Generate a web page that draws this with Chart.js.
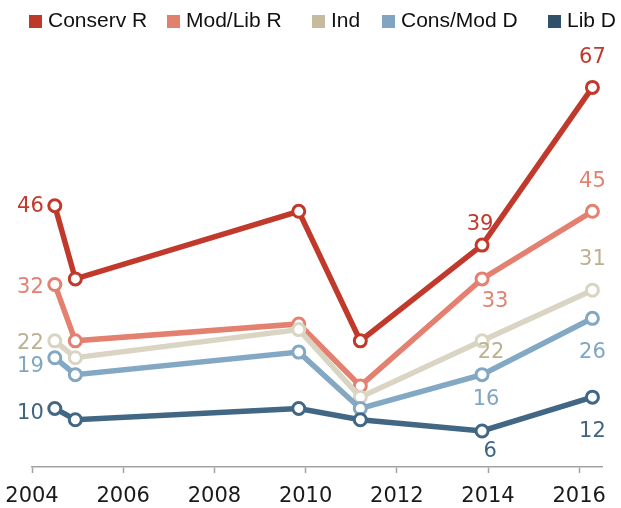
<!DOCTYPE html>
<html>
<head>
<meta charset="utf-8">
<script src="https://cdn.jsdelivr.net/npm/chart.js@4"></script>
<style>
  html, body { margin: 0; padding: 0; background: #fff; }
  canvas { display: block; }
</style>
</head>
<body>
<canvas id="partyChart" width="621" height="508"></canvas>
<script>
// survey dates (fractional years) and share per group
const years = [2004.5, 2004.95, 2009.85, 2011.2, 2013.87, 2016.29];
const seriesNames = ['Conserv R', 'Mod/Lib R', 'Ind', 'Cons/Mod D', 'Lib D'];
const conservR = [46, 33, 45, 22, 39, 67];
const modLibR = [32, 22, 25, 14, 33, 45];
const ind = [22, 19, 24, 12, 22, 31];
const consModD = [19, 16, 20, 10, 16, 26];
const libD = [10, 8, 10, 8, 6, 12];
const tickYears = [2004, 2006, 2008, 2010, 2012, 2014, 2016];

const allSeries = [conservR, modLibR, ind, consModD, libD];

const lineColors = ['#c0392b', '#e4806f', '#dad5c3', '#82a8c4', '#416785'];
const legendColors = ['#bf3927', '#e2806e', '#c4bc9d', '#81a5c0', '#31506a'];
const labelColors = ['#c0392b', '#e4806f', '#bbb18f', '#7fa6c2', '#3f6580'];

// where the value labels sit relative to each point: [dx, dy, align]
const labelSpots = [
    [[-11, 1, 'right'], null, null, null, [-2, -21, 'center'], [0, -30, 'center']],
    [[-11, 3, 'right'], null, null, null, [13, 23, 'center'], [0, -30, 'center']],
    [[-11, 3, 'right'], null, null, null, [9, 12, 'center'], [0, -31, 'center']],
    [[-11, 9, 'right'], null, null, null, [4, 25, 'center'], [0, 34, 'center']],
    [[-11, 5, 'right'], null, null, null, [8, 21, 'center'], [0, 34, 'center']]
];

const legendBoxX = [29, 167, 312, 382, 548];

const valueLabels = {
    id: 'valueLabels',
    afterDatasetsDraw(chart) {
        const c = chart.ctx;
        c.save();
        c.font = '21px "DejaVu Sans"';
        c.textBaseline = 'middle';
        allSeries.forEach((vals, i) => {
            const meta = chart.getDatasetMeta(i);
            labelSpots[i].forEach((spot, j) => {
                if (!spot) return;
                const pt = meta.data[j];
                c.fillStyle = labelColors[i];
                c.textAlign = spot[2];
                c.fillText(String(vals[j]), pt.x + spot[0], pt.y + spot[1]);
            });
        });
        c.restore();
    }
};

const topLegend = {
    id: 'topLegend',
    afterDraw(chart) {
        const c = chart.ctx;
        c.save();
        c.font = '21px "Liberation Sans"';
        c.textBaseline = 'middle';
        c.textAlign = 'left';
        seriesNames.forEach((name, i) => {
            const x = legendBoxX[i];
            c.fillStyle = legendColors[i];
            c.fillRect(x, 15, 13, 13);
            c.fillStyle = '#111';
            c.fillText(name, x + 19, 21);
        });
        c.restore();
    }
};

const ctx = document.getElementById('partyChart').getContext('2d');

const datasets = allSeries.map((vals, i) => ({
    label: seriesNames[i],
    data: vals.map((v, j) => ({ x: years[j], y: v })),
    borderColor: lineColors[i],
    backgroundColor: legendColors[i],
    borderWidth: 5.5,
    pointRadius: 6,
    pointBorderWidth: 3,
    pointBackgroundColor: '#fff',
    pointBorderColor: lineColors[i],
    tension: 0,
    order: allSeries.length - i // first series at the bottom
}));

const chart = new Chart(ctx, {
    type: 'line',
    data: { datasets: datasets },
    options: {
        responsive: false,
        animation: false,
        events: [],
        layout: { padding: { top: 48, left: 32, right: 19, bottom: 0 } },
        plugins: {
            legend: { display: false },
            tooltip: { enabled: false }
        },
        scales: {
            x: {
                type: 'linear',
                min: 2004,
                max: 2016.5,
                afterBuildTicks: s => { s.ticks = tickYears.map(v => ({ value: v })); },
                afterFit: s => { s.height = 41; },
                grid: { drawOnChartArea: false, drawTicks: true, tickLength: 6, tickWidth: 1.5, color: '#a3a3a3' },
                border: { display: true, color: '#a3a3a3', width: 1.5 },
                ticks: {
                    callback: v => String(v),
                    color: '#1a1a1a',
                    font: { family: 'DejaVu Sans', size: 21, lineHeight: 1.77 },
                    padding: 5,
                    maxRotation: 0,
                    autoSkip: false
                }
            },
            y: { display: false, min: -0.4, max: 74 }
        }
    },
    plugins: [valueLabels, topLegend]
});
</script>
</body>
</html>
